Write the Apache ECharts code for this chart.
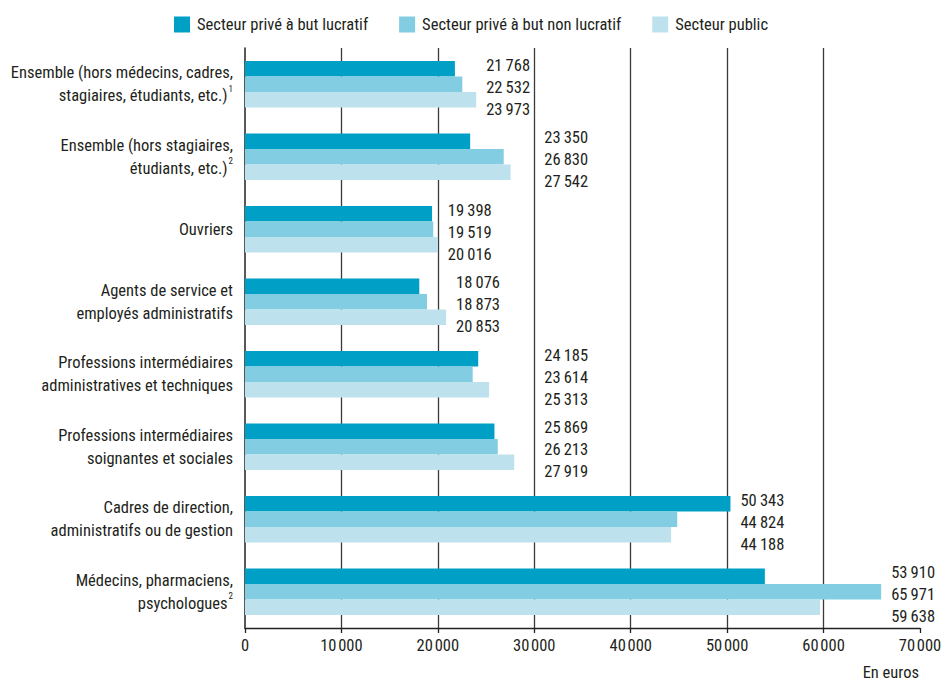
<!DOCTYPE html>
<html>
<head>
<meta charset="utf-8">
<script src="https://cdn.jsdelivr.net/npm/echarts@6/dist/echarts.min.js"></script>
<style>
html,body{margin:0;padding:0;background:#fff;}
#chart{width:947px;height:681px;}
</style>
</head>
<body>
<div id="chart"></div>
<script>
var categories = [
  "Ensemble (hors médecins, cadres,\nstagiaires, étudiants, etc.){sup|1}",
  "Ensemble (hors stagiaires,\nétudiants, etc.){sup|2}",
  "Ouvriers",
  "Agents de service et\nemployés administratifs",
  "Professions intermédiaires\nadministratives et techniques",
  "Professions intermédiaires\nsoignantes et sociales",
  "Cadres de direction,\nadministratifs ou de gestion",
  "Médecins, pharmaciens,\npsychologues{sup|2}"
];
var seriesNames = ["Secteur privé à but lucratif", "Secteur privé à but non lucratif", "Secteur public"];
var prLucratif = [21768, 23350, 19398, 18076, 24185, 25869, 50343, 53910];
var prNonLucratif = [22532, 26830, 19519, 18873, 23614, 26213, 44824, 65971];
var public_ = [23973, 27542, 20016, 20853, 25313, 27919, 44188, 59638];
var xTicks = [0, 10000, 20000, 30000, 40000, 50000, 60000, 70000];

var colors = ["#009FC5", "#82CDE2", "#BEE2ED"];
var FONT = "'Roboto Condensed','DejaVu Sans Condensed',sans-serif";
var FS = 16.5;
var TXT = "#231f20";

function fmt(v, sep) {
  var s = String(Math.round(v));
  return s.replace(/\B(?=(\d{3})+(?!\d))/g, sep);
}

var labelData = categories.map(function (c, i) {
  return [i, prLucratif[i], prNonLucratif[i], public_[i]];
});

var chart = echarts.init(document.getElementById('chart'), null, {renderer: 'svg'});

var option = {
  animation: false,
  color: colors,
  textStyle: {fontFamily: FONT, color: TXT},
  legend: {
    data: seriesNames,
    left: 169,
    top: 11,
    icon: 'rect',
    itemWidth: 16,
    itemHeight: 16,
    itemGap: 31,
    textStyle: {fontFamily: FONT, fontSize: FS, color: TXT, padding: [0, 0, 0, 2]}
  },
  grid: {left: 245, right: 27, top: 48, bottom: 53, containLabel: false, outerBoundsMode: 'none'},
  xAxis: {
    type: 'value',
    min: 0,
    max: 70000,
    interval: 10000,
    axisLine: {show: true, lineStyle: {color: '#222', width: 1.3}},
    axisTick: {show: true, length: 5, lineStyle: {color: '#222', width: 1.3}},
    axisLabel: {
      fontFamily: FONT, fontSize: FS, color: TXT, margin: 9,
      formatter: function (v) { return fmt(v, '\u200a'); }
    },
    splitLine: {show: true, showMinLine: false, showMaxLine: false, lineStyle: {color: '#3a3a3a', width: 1.3}}
  },
  yAxis: {
    type: 'category',
    data: categories,
    inverse: true,
    axisLine: {show: true, onZero: false, lineStyle: {color: '#222', width: 1.5}},
    axisTick: {show: false},
    axisLabel: {
      fontFamily: FONT, fontSize: FS, color: TXT, margin: 12, lineHeight: 23, align: 'right',
      rich: {sup: {fontSize: 9, fontFamily: FONT, color: TXT, verticalAlign: 'top', padding: [0, 0, 9, 1], lineHeight: 23}}
    }
  },
  graphic: [{
    type: 'text',
    x: 919,
    y: 672,
    style: {text: 'En euros', font: FS + 'px ' + FONT, fill: TXT, align: 'right', verticalAlign: 'middle'}
  }],
  series: [
    {name: seriesNames[0], type: 'bar', data: prLucratif, barWidth: 15.5, barGap: '0%'},
    {name: seriesNames[1], type: 'bar', data: prNonLucratif, barWidth: 15.5, barGap: '0%'},
    {name: seriesNames[2], type: 'bar', data: public_, barWidth: 15.5, barGap: '0%'},
    {
      type: 'custom',
      name: 'labels',
      data: labelData,
      encode: {x: 1, y: 0},
      z: 10,
      silent: true,
      renderItem: function (params, api) {
        var cat = api.value(0);
        var vals = [api.value(1), api.value(2), api.value(3)];
        var mx = Math.max(vals[0], vals[1], vals[2]);
        var p = api.coord([mx, cat]);
        var x = p[0] + 10;
        for (var k = 1; k < xTicks.length - 1; k++) {
          var gx = api.coord([xTicks[k], cat])[0];
          if (gx > x - 12 && gx < x + 44) { x = gx + 10; }
        }
        var offs = [-19, 3, 25];
        var children = vals.map(function (v, j) {
          return {
            type: 'text',
            x: x,
            y: p[1] + offs[j],
            style: {
              text: fmt(v, '\u2009'),
              font: FS + 'px ' + FONT,
              fill: TXT,
              align: 'left',
              verticalAlign: 'middle'
            }
          };
        });
        return {type: 'group', children: children};
      }
    }
  ]
};
chart.setOption(option);
</script>
</body>
</html>
